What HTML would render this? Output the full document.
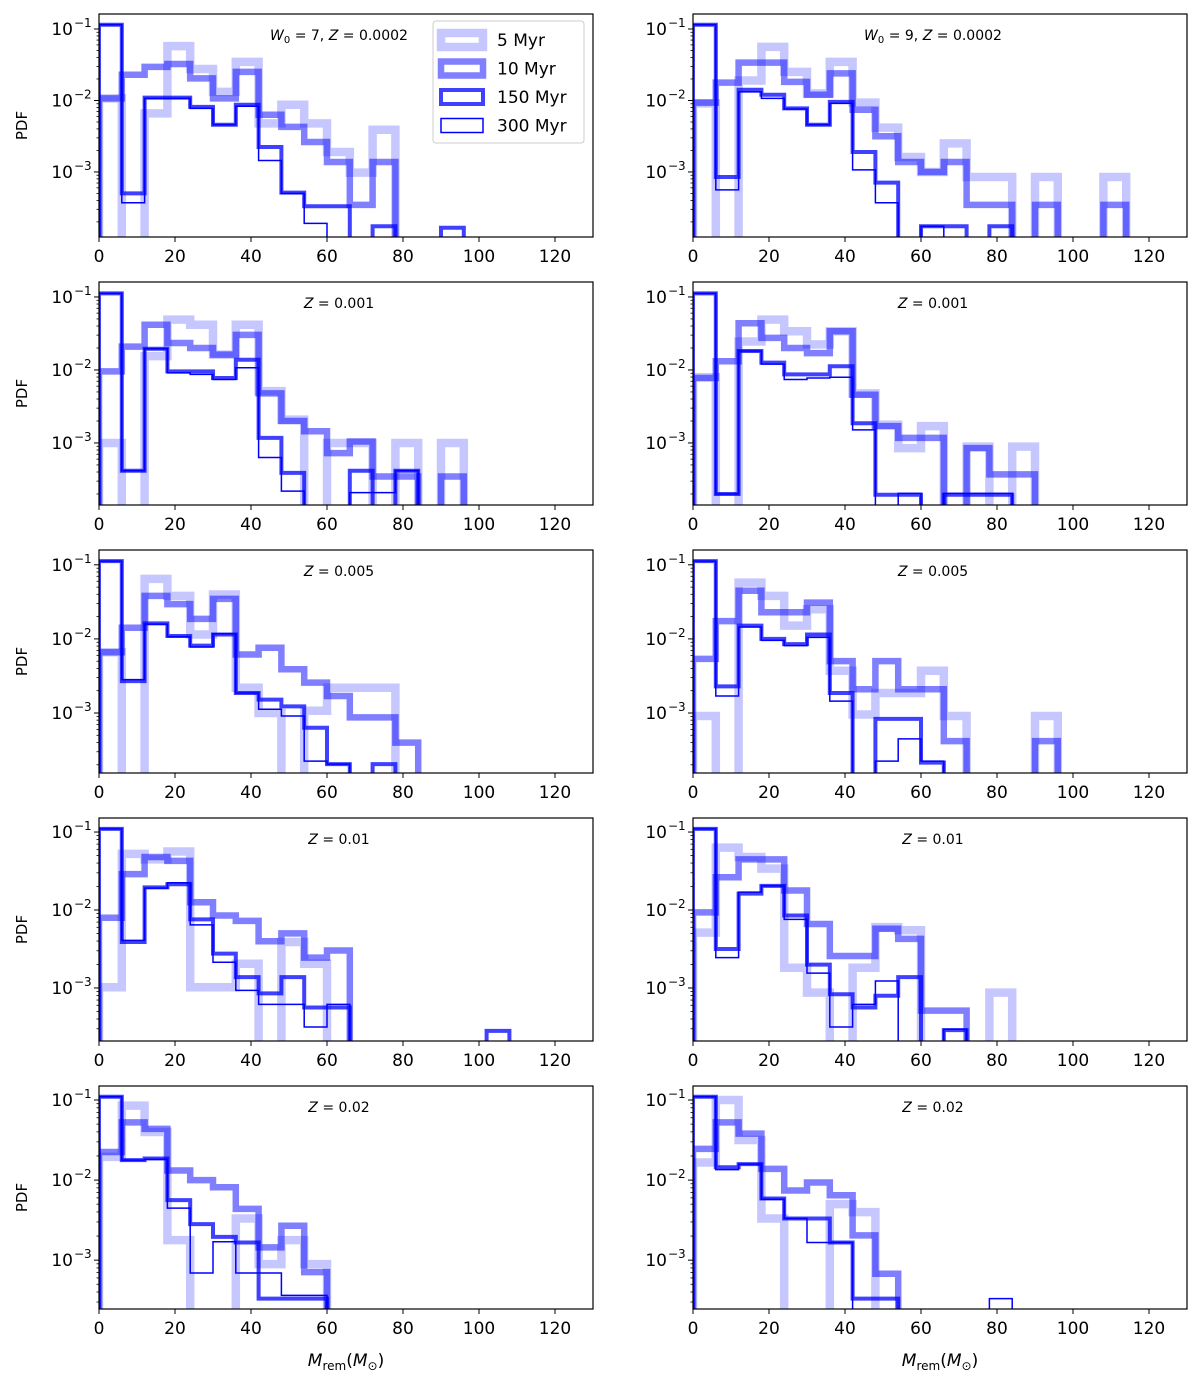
<!DOCTYPE html>
<html><head><meta charset="utf-8"><style>
body{margin:0;background:#fff}
svg text{font-family:"DejaVu Sans","Liberation Sans",sans-serif}
</style></head><body>
<svg id="fig" width="1200" height="1383" viewBox="0 0 1200 1383" xmlns="http://www.w3.org/2000/svg"></svg>
<script>
// x-axis
const binWidth = 6;
const xTicks = [0,20,40,60,80,100,120];
const yTickExps = [-1,-2,-3];
const seriesNames = ["5 Myr","10 Myr","150 Myr","300 Myr"];
const panelTitles = ["W0=7, Z = 0.0002","W0=9, Z = 0.0002","Z = 0.001","Z = 0.001","Z = 0.005","Z = 0.005","Z = 0.01","Z = 0.01","Z = 0.02","Z = 0.02"];
// log10(PDF) per bin (null = empty bin), for 5, 10, 150, 300 Myr
const p1_5 = [-1.97,null,-2.18,-1.24,-1.56,-1.88,-1.46,-2.32,-2.06,-2.32,-2.72,-3.01,-2.41];
const p1_10 = [-1.97,-1.64,-1.53,-1.49,-1.69,-1.97,-1.6,-2.2,-2.37,-2.58,-2.86,-3.46,-2.86];
const p1_150 = [-0.94,-3.3,-1.96,-1.96,-2.09,-2.34,-2.06,-2.65,-3.29,-3.48,-3.48,null,-3.76,null,null,-3.78];
const p1_300 = [-0.94,-3.43,-1.97,-1.97,-2.11,-2.34,-2.08,-2.84,-3.3,-3.72];
const p2_5 = [-2.04,null,-1.72,-1.25,-1.6,-1.9,-1.46,-2.03,-2.38,-2.79,-3.0,-2.6,-3.07,-3.07,null,-3.07,null,null,-3.07];
const p2_10 = [-2.03,-1.75,-1.47,-1.47,-1.74,-1.92,-1.62,-2.13,-2.5,-2.86,-3.0,-2.86,-3.46,-3.46,null,-3.46,null,null,-3.46];
const p2_150 = [-0.94,-3.07,-1.85,-1.92,-2.11,-2.34,-2.02,-2.72,-3.15,null,-3.76,-3.76,null,-3.76];
const p2_300 = [-0.94,-3.25,-1.88,-1.97,-2.12,-2.34,-2.04,-2.97,-3.43,null,-3.76];
const p3_5 = [-3.0,null,-1.81,-1.31,-1.38,-1.79,-1.38,-2.29,-2.68,null,-3.0,-3.0,null,-3.0,null,-3.0];
const p3_10 = [-2.02,-1.68,-1.38,-1.63,-1.7,-1.79,-1.52,-2.32,-2.7,-2.84,-3.14,-2.98,-3.46,-3.46,null,-3.46];
const p3_150 = [-0.95,-3.38,-1.71,-2.02,-2.02,-2.11,-1.86,-2.93,-3.41,null,null,-3.38,null,-3.38];
const p3_300 = [-0.95,-3.38,-1.71,-2.04,-2.06,-2.13,-1.97,-3.2,-3.66,null,null,-3.68,-3.68,-3.38];
const p4_5 = [-2.1,null,-1.61,-1.31,-1.47,-1.65,-1.47,-2.32,-2.75,-3.07,-2.77,null,-3.05,null,-3.05];
const p4_10 = [-2.11,-1.88,-1.36,-1.56,-1.7,-1.77,-1.47,-2.34,-2.77,-2.93,-2.93,null,-3.07,-3.43,-3.43];
const p4_150 = [-0.95,-3.7,-1.74,-1.9,-2.06,-2.06,-1.95,-2.73,-3.71,-3.71,null,-3.71,-3.71,-3.71];
const p4_300 = [-0.95,-3.7,-1.74,-1.92,-2.13,-2.11,-2.1,-2.82,null,-3.69,null,-3.69,-3.69,-3.69];
const p5_5 = [-2.18,null,-1.19,-1.42,-1.94,-1.4,-2.66,-3.0,null,-2.97,-2.66,-2.66,-2.66];
const p5_10 = [-2.18,-1.85,-1.42,-1.53,-1.73,-1.46,-2.21,-2.12,-2.41,-2.59,-2.77,-3.06,-3.06,-3.4];
const p5_150 = [-0.95,-2.57,-1.79,-1.96,-2.09,-1.94,-2.73,-2.82,-2.91,-3.2,-3.69,null,-3.69];
const p5_300 = [-0.95,-2.55,-1.8,-1.97,-2.11,-1.93,-2.73,-2.95,-3.04,-3.65,-3.69];
const p6_5 = [-3.04,null,-1.24,-1.42,-1.82,-1.6,-2.43,-3.02,-2.73,-2.73,-2.43,-3.04,null,null,null,-3.04];
const p6_10 = [-2.27,-1.76,-1.35,-1.64,-1.64,-1.51,-2.3,-2.68,-2.3,-2.68,-2.68,-3.38,null,null,null,-3.38];
const p6_150 = [-0.95,-2.64,-1.82,-2.0,-2.07,-1.94,-2.73,null,-3.08,-3.08,-3.67];
const p6_300 = [-0.95,-2.77,-1.84,-2.02,-2.09,-1.98,-2.84,null,-3.65,-3.35,-3.65];
const p7_5 = [-2.99,-1.28,-1.35,-1.25,-2.99,-2.99,-2.69,null,-2.41,-2.69];
const p7_10 = [-2.1,-1.54,-1.32,-1.37,-1.9,-2.07,-2.14,-2.4,-2.3,-2.61,-2.52];
const p7_150 = [-0.96,-2.41,-1.71,-1.67,-2.12,-2.56,-2.86,-3.07,-2.86,-3.25,-3.25,null,null,null,null,null,null,-3.55];
const p7_300 = [-0.96,-2.39,-1.72,-1.65,-2.19,-2.67,-3.03,-3.21,-3.21,-3.5,-3.21];
const p8_5 = [-2.29,-1.2,-1.32,-1.47,-2.74,-3.06,null,-2.74,-2.22,-2.26,null,null,null,-3.06];
const p8_10 = [-2.03,-1.58,-1.35,-1.35,-1.75,-2.18,-2.59,-2.59,-2.24,-2.37,-3.29,-3.29];
const p8_150 = [-0.96,-2.5,-1.79,-1.69,-2.07,-2.7,-3.08,-3.25,-3.1,-2.86,null,-3.54];
const p8_300 = [-0.96,-2.61,-1.77,-1.69,-2.12,-2.81,-3.5,-3.21,-2.91,null,null,-3.53];
const p9_5 = [-1.71,-1.07,-1.4,-2.75,null,null,-2.48,-3.05,-2.75,-3.05];
const p9_10 = [-1.65,-1.28,-1.36,-1.88,-2.0,-2.09,-2.36,-2.84,-2.57,-3.15];
const p9_150 = [-0.96,-1.75,-1.73,-2.25,-2.55,-2.71,-2.78,-3.48,-3.48,-3.48];
const p9_300 = [-0.96,-1.75,-1.74,-2.35,-3.16,-2.77,-3.16,-3.16,-3.44,-3.44];
const p10_5 = [-1.78,-1.0,-1.5,-2.48,null,null,-2.3,-2.4];
const p10_10 = [-1.61,-1.28,-1.42,-1.86,-2.13,-2.03,-2.19,-2.69,-3.17];
const p10_150 = [-0.96,-1.84,-1.8,-2.23,-2.48,-2.48,-2.78,-3.48,-3.48];
const p10_300 = [-0.96,-1.87,-1.8,-2.24,-2.48,-2.78,-2.78,null,null,null,null,null,null,-3.48];
const rowYTop = [-0.79,-0.795,-0.8,-0.82,-0.825];
const rowYBot = [-3.91,-3.85,-3.81,-3.68,-3.61];

const panels = [
 [p1_5,p1_10,p1_150,p1_300],[p2_5,p2_10,p2_150,p2_300],
 [p3_5,p3_10,p3_150,p3_300],[p4_5,p4_10,p4_150,p4_300],
 [p5_5,p5_10,p5_150,p5_300],[p6_5,p6_10,p6_150,p6_300],
 [p7_5,p7_10,p7_150,p7_300],[p8_5,p8_10,p8_150,p8_300],
 [p9_5,p9_10,p9_150,p9_300],[p10_5,p10_10,p10_150,p10_300]];

const NS="http://www.w3.org/2000/svg";
const svg=document.getElementById('fig');
const styles=[{o:0.22,w:8.5},{o:0.5,w:6.5},{o:0.75,w:4},{o:1,w:1.5}];
const colLeft=[99,693], rowTop=[14,282,550,818,1086], W=494, H=223, XMAX=130;
function mk(tag,attrs,parent){const e=document.createElementNS(NS,tag);for(const k in attrs)e.setAttribute(k,attrs[k]);(parent||svg).appendChild(e);return e;}

panels.forEach((series,pi)=>{
  const row=Math.floor(pi/2), col=pi%2;
  const x0=colLeft[col], y0=rowTop[row];
  const top=rowYTop[row], bot=rowYBot[row];
  const xs=v=>x0+v/XMAX*W;
  const ys=L=>y0+(top-L)/(top-bot)*H;
  const g=mk('g',{});
  
  
  const cp=mk('clipPath',{id:'cp'+pi},g);
  mk('rect',{x:x0,y:y0,width:W,height:H},cp);
  series.forEach((vals,si)=>{
    const yb=y0+H+12;
    let d='M'+xs(0)+','+yb;
    vals.forEach((v,i)=>{
      const yy=(v===null)?yb:ys(v);
      d+=' L'+xs(i*binWidth)+','+yy+' L'+xs((i+1)*binWidth)+','+yy;
    });
    d+=' L'+xs(vals.length*binWidth)+','+yb;
    const p=mk('path',{d:d,fill:'none',stroke:'#0000ff','stroke-opacity':styles[si].o,'stroke-width':styles[si].w,'stroke-linejoin':'miter','clip-path':'url(#cp'+pi+')'},g);
    
    
  });
  xTicks.forEach(t=>{
    const x=xs(t);
    mk('line',{x1:x,x2:x,y1:y0+H,y2:y0+H+5,stroke:'#000','stroke-width':1},g);
    const tx=mk('text',{x:x,y:y0+H+25,'font-size':17,'text-anchor':'middle'},g);
    tx.textContent=t;
    
    
  });
  for(let e=-4;e<=-1;e++){
    for(let m=1;m<10;m++){
      const L=e+Math.log10(m);
      if(L>top||L<bot) continue;
      const y=ys(L);
      mk('line',{x1:x0-(m===1?5:2.5),x2:x0,y1:y,y2:y,stroke:'#000','stroke-width':m===1?1:0.8},g);
    }
  }
  yTickExps.forEach(e=>{
    const y=ys(e);
    const tx=mk('text',{x:x0-26,y:y+6,'font-size':17,'text-anchor':'end'},g);
    tx.textContent='10';
    
    
    const sp=mk('text',{x:x0-25,y:y-2,'font-size':12,'text-anchor':'start'},g);
    sp.textContent='\u2212'+(-e);
  });
  mk('rect',{x:x0,y:y0,width:W,height:H,fill:'none',stroke:'#000','stroke-width':1.2},g);
  const tcx=x0+240, tcy=y0+26;
  const tt=mk('text',{x:tcx,y:tcy,'font-size':14,'text-anchor':'middle'},g);
  
  
  const title=panelTitles[pi];
  if(title.startsWith('W0')){
    tt.innerHTML='<tspan font-style="italic">W</tspan><tspan font-size="10" dy="3">0</tspan><tspan dy="-3"> = '+title.slice(3,4)+', </tspan><tspan font-style="italic">Z</tspan> = 0.0002';
  } else {
    tt.innerHTML='<tspan font-style="italic">Z</tspan>'+title.slice(1);
  }
  if(col===0){
    const yl=mk('text',{x:0,y:0,'font-size':15,'text-anchor':'middle',transform:'translate(27,'+(y0+H/2)+') rotate(-90)'},g);
    yl.textContent='PDF';
    
    
  }
  if(row===4){
    const xl=mk('text',{x:x0+247,y:1366,'font-size':17,'text-anchor':'middle'},g);
    xl.innerHTML='<tspan font-style="italic">M</tspan><tspan font-size="12" dy="4">rem</tspan><tspan dy="-4">(</tspan><tspan font-style="italic">M</tspan><tspan font-size="12" dy="4">\u2299</tspan><tspan dy="-4">)</tspan>';
    
    
  }
});
const lg=mk('g',{});


mk('rect',{x:433,y:21,width:151,height:122,rx:3,fill:'#fff','fill-opacity':0.8,stroke:'#cccccc','stroke-width':1},lg);
seriesNames.forEach((n,i)=>{
  const cy=40+i*28.5;
  const r=mk('rect',{x:441,y:cy-7,width:42,height:14,fill:'none',stroke:'#0000ff','stroke-opacity':styles[i].o,'stroke-width':styles[i].w},lg);
  
  
  const t=mk('text',{x:497,y:cy+6,'font-size':17},lg);
  t.textContent=n;
  
  
});
</script>
</body></html>
